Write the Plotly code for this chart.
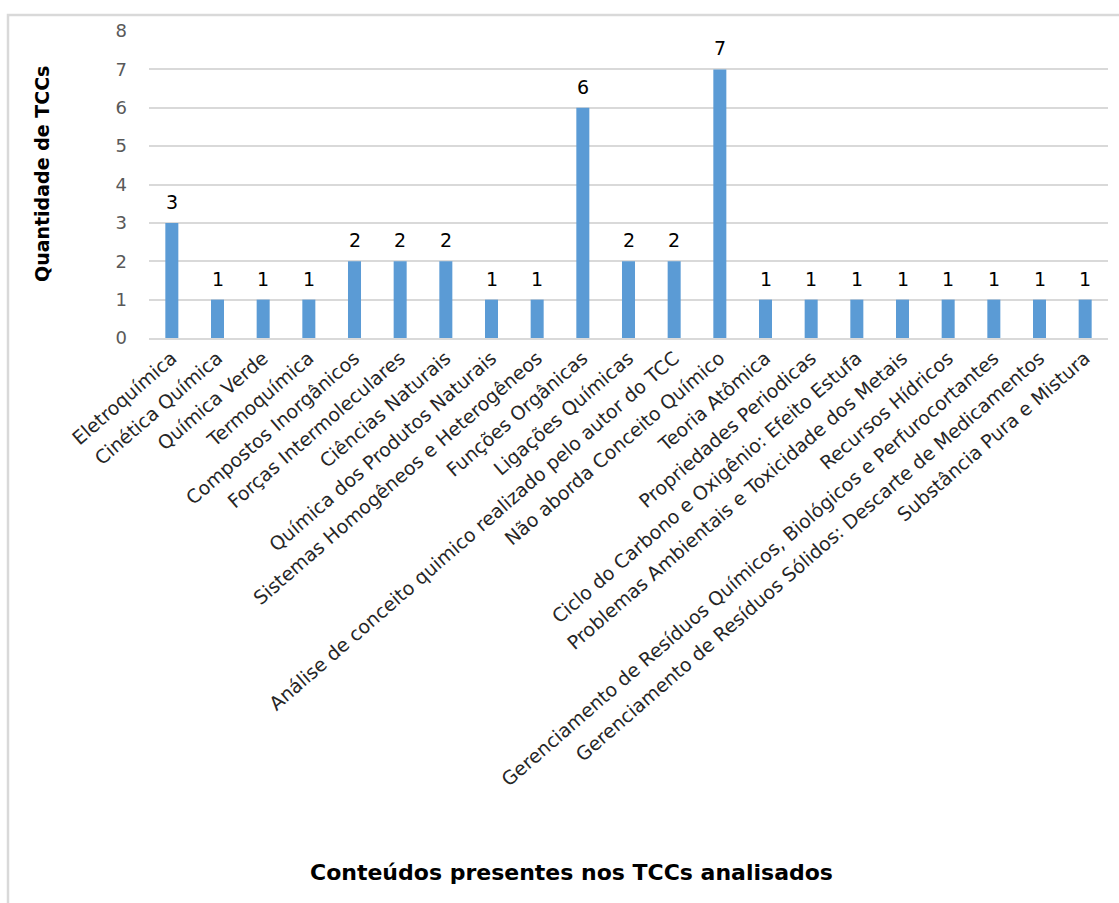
import plotly.graph_objects as go

categories = [
    "Eletroquímica",
    "Cinética Química",
    "Química Verde",
    "Termoquímica",
    "Compostos Inorgânicos",
    "Forças Intermoleculares",
    "Ciências Naturais",
    "Química dos Produtos Naturais",
    "Sistemas Homogêneos e Heterogêneos",
    "Funções Orgânicas",
    "Ligações Químicas",
    "Análise de conceito quimico realizado pelo autor do TCC",
    "Não aborda Conceito Químico",
    "Teoria Atômica",
    "Propriedades Periodicas",
    "Ciclo do Carbono e Oxigênio: Efeito Estufa",
    "Problemas Ambientais e Toxicidade dos Metais",
    "Recursos Hídricos",
    "Gerenciamento de Resíduos Químicos, Biológicos e Perfurocortantes",
    "Gerenciamento de Resíduos Sólidos: Descarte de Medicamentos",
    "Substância Pura e Mistura",
]
values = [3, 1, 1, 1, 2, 2, 2, 1, 1, 6, 2, 2, 7, 1, 1, 1, 1, 1, 1, 1, 1]
y_ticks = [0, 1, 2, 3, 4, 5, 6, 7, 8]

FONT = "DejaVu Sans, Liberation Sans, Arial"

W, H = 1119, 903
L, R, T, B = 149, 11, 31, 565
pw = W - L - R
ph = H - T - B

def px_x(x):
    return (x - L) / pw

def px_y(y):
    return (H - B - y) / ph

fig = go.Figure(
    go.Bar(
        x=categories,
        y=values,
        marker=dict(color="#5B9BD5", line=dict(width=0)),
        hoverinfo="x+y",
    )
)

annotations = [
    dict(
        x=c, y=v, xref="x", yref="y",
        text=str(v),
        showarrow=False,
        yanchor="bottom", xanchor="center",
        yshift=8,
        font=dict(family=FONT, size=19, color="#000000"),
    )
    for c, v in zip(categories, values)
]

annotations += [
    dict(
        text="<b>Conteúdos presentes nos TCCs analisados</b>",
        xref="paper", yref="paper",
        x=px_x(571), y=px_y(872),
        xanchor="center", yanchor="middle",
        showarrow=False,
        font=dict(family=FONT, size=22, color="#000000"),
    ),
    dict(
        text="<b>Quantidade de TCCs</b>",
        xref="paper", yref="paper",
        x=px_x(42), y=px_y(174),
        xanchor="center", yanchor="middle",
        textangle=-90,
        showarrow=False,
        font=dict(family=FONT, size=19, color="#000000"),
    ),
]

fig.update_layout(
    width=W,
    height=H,
    margin=dict(l=L, r=R, t=T, b=B, autoexpand=False),
    paper_bgcolor="white",
    plot_bgcolor="white",
    bargap=0.715,
    showlegend=False,
    font=dict(family=FONT),
    xaxis=dict(
        tickangle=-41,
        tickfont=dict(family=FONT, size=19, color="#262626"),
        showgrid=False,
        showline=True,
        linecolor="#D9D9D9",
        linewidth=1.5,
        ticks="",
        automargin=False,
    ),
    yaxis=dict(
        range=[0, 8],
        tickvals=y_ticks,
        tickfont=dict(family=FONT, size=18, color="#595959"),
        showgrid=True,
        gridcolor="#D9D9D9",
        gridwidth=1.5,
        zeroline=False,
        showline=False,
        ticks="",
        ticklabelstandoff=21,
        automargin=False,
    ),
    annotations=annotations,
    shapes=[
        dict(
            type="rect",
            xref="paper", yref="paper",
            x0=px_x(8), x1=px_x(1130),
            y0=px_y(915), y1=px_y(15),
            line=dict(color="#D9D9D9", width=2.5),
            fillcolor="rgba(0,0,0,0)",
            layer="below",
        )
    ],
)

fig.write_html("out.html")
